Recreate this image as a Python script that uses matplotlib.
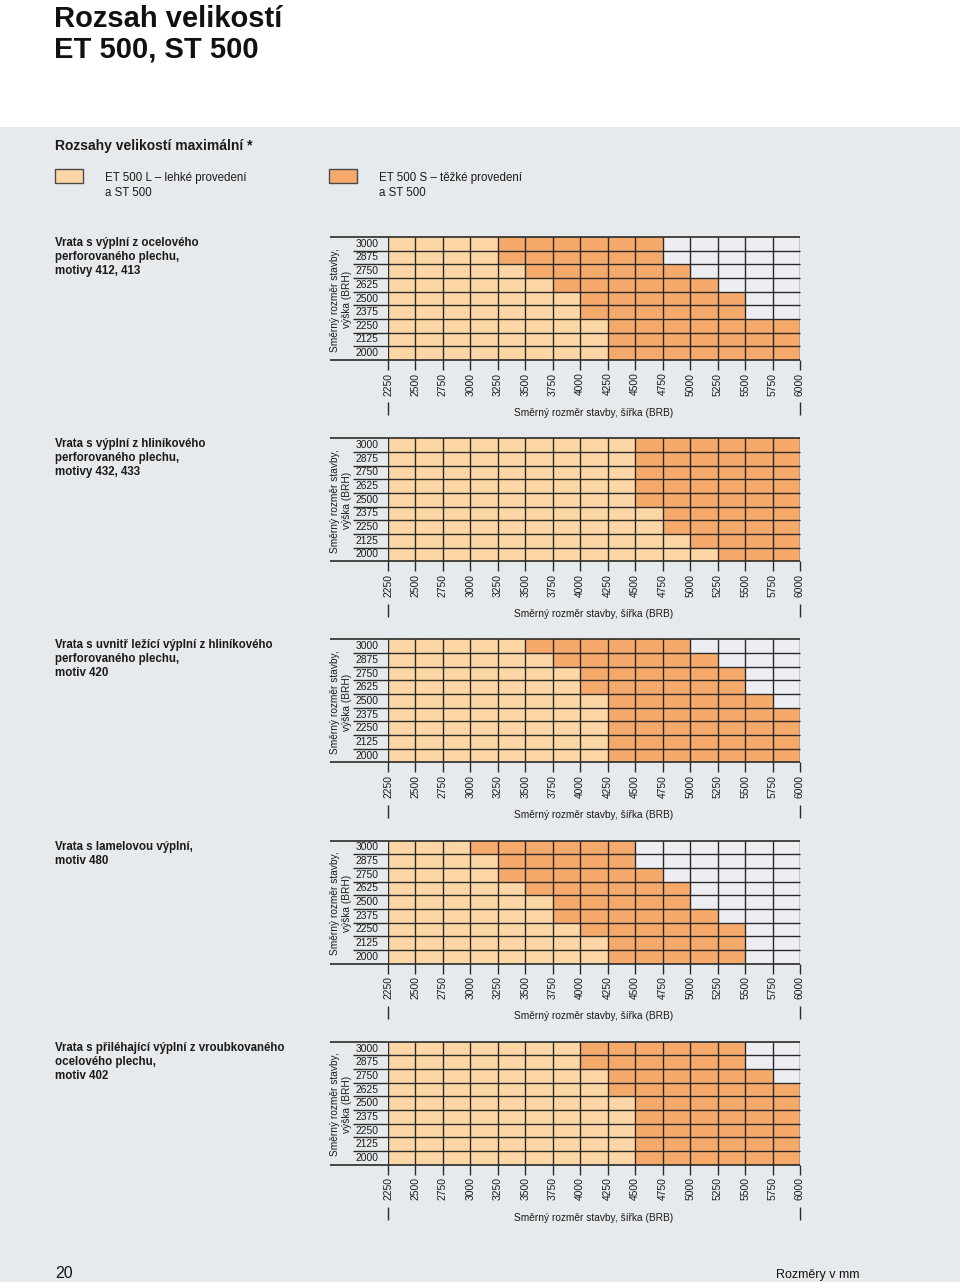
import matplotlib
matplotlib.use("Agg")
import matplotlib.pyplot as plt
from matplotlib.patches import Rectangle

# ---------------- data ----------------
widths = [2250, 2500, 2750, 3000, 3250, 3500, 3750, 4000, 4250,
          4500, 4750, 5000, 5250, 5500, 5750, 6000]          # BRB boundaries (mm)
heights = [3000, 2875, 2750, 2625, 2500, 2375, 2250, 2125, 2000]  # BRH rows, top->bottom

panel_titles = [
    "Vrata s výplní z ocelového\nperforovaného plechu,\nmotivy 412, 413",
    "Vrata s výplní z hliníkového\nperforovaného plechu,\nmotivy 432, 433",
    "Vrata s uvnitř ležící výplní z hliníkového\nperforovaného plechu,\nmotiv 420",
    "Vrata s lamelovou výplní,\nmotiv 480",
    "Vrata s přiléhající výplní z vroubkovaného\nocelového plechu,\nmotiv 402",
]

# maximum width per height row for ET 500 L (light) and ET 500 S (heavy)
L_max_1 = [3250, 3250, 3500, 3750, 4000, 4000, 4250, 4250, 4250]
S_max_1 = [4750, 4750, 5000, 5250, 5500, 5500, 6000, 6000, 6000]

L_max_2 = [4500, 4500, 4500, 4500, 4500, 4750, 4750, 5000, 5250]
S_max_2 = [6000, 6000, 6000, 6000, 6000, 6000, 6000, 6000, 6000]

L_max_3 = [3500, 3750, 4000, 4000, 4250, 4250, 4250, 4250, 4250]
S_max_3 = [5000, 5250, 5500, 5500, 5750, 6000, 6000, 6000, 6000]

L_max_4 = [3000, 3250, 3250, 3500, 3750, 3750, 4000, 4250, 4250]
S_max_4 = [4500, 4500, 4750, 5000, 5000, 5250, 5500, 5500, 5500]

L_max_5 = [4000, 4000, 4250, 4250, 4500, 4500, 4500, 4500, 4500]
S_max_5 = [5500, 5500, 5750, 6000, 6000, 6000, 6000, 6000, 6000]

L_max_all = [L_max_1, L_max_2, L_max_3, L_max_4, L_max_5]
S_max_all = [S_max_1, S_max_2, S_max_3, S_max_4, S_max_5]

legend_labels = ["ET 500 L – lehké provedení\na ST 500",
                 "ET 500 S – těžké provedení\na ST 500"]

# ---------------- style ----------------
W, H = 960, 1282
LIGHT = "#fdd6a5"
DARK = "#f5a96b"
BG = "#e7eaed"
EMPTY = "#eceef1"
LINE = "#2a2a2a"
FONT = ["Liberation Sans", "DejaVu Sans"]
plt.rcParams["font.family"] = FONT

fig = plt.figure(figsize=(W / 100, H / 100), dpi=100, facecolor="white")


def fx(x):
    return x / W


def fy(y):
    return 1 - y / H


# gray band (background, below the axes)
bg_ax = fig.add_axes([0, 0, 1, fy(127)], zorder=-10)
bg_ax.set_facecolor(BG)
bg_ax.set_xticks([])
bg_ax.set_yticks([])
for s in bg_ax.spines.values():
    s.set_visible(False)

# page title
fig.text(fx(54), fy(5), "Rozsah velikostí\nET 500, ST 500",
         fontweight="bold", fontsize=21, va="top", ha="left", linespacing=1.1,
         color="#111111")

fig.text(fx(55), fy(146), "Rozsahy velikostí maximální *", fontweight="bold",
         fontsize=10, va="center", ha="left", color="#1a1a1a")

# legend
for (px, txt, col) in [(55, legend_labels[0], LIGHT), (329, legend_labels[1], DARK)]:
    fig.patches.append(Rectangle((fx(px), fy(183)), fx(28), 14 / H,
                                 transform=fig.transFigure, facecolor=col,
                                 edgecolor="#4a4a4a", linewidth=1.0, zorder=2))
    fig.text(fx(px + 50), fy(172), txt, fontsize=8.3, va="top", ha="left",
             linespacing=1.38, color="#1a1a1a")

# ---------------- panels ----------------
grid_left, grid_right = 388, 800
grid_h = 123
nrows = len(heights)

for k in range(5):
    top = 237 + 201.2 * k
    bottom = top + grid_h
    ax = fig.add_axes([fx(grid_left), fy(bottom), fx(grid_right - grid_left), grid_h / H],
                      zorder=5)
    ax.set_facecolor(EMPTY)
    ax.set_xlim(widths[0], widths[-1])
    ax.set_ylim(nrows, 0)
    for s in ax.spines.values():
        s.set_visible(False)

    Lm = L_max_all[k]
    Sm = S_max_all[k]
    ys = [i + 0.5 for i in range(nrows)]
    ax.barh(ys, [l - widths[0] for l in Lm], left=widths[0], height=1.0,
            color=LIGHT, edgecolor="none", zorder=1)
    ax.barh(ys, [s - l for s, l in zip(Sm, Lm)], left=Lm, height=1.0,
            color=DARK, edgecolor="none", zorder=1)

    # grid lines
    ax.vlines(widths, 0, nrows, color=LINE, linewidth=1.0, zorder=3)
    ytr = ax.get_yaxis_transform()
    ax.hlines(range(1, nrows), -0.085, 1.0, transform=ytr, color=LINE,
              linewidth=1.0, zorder=3, clip_on=False)
    ax.hlines([0, nrows], -0.141, 1.0, transform=ytr, color=LINE,
              linewidth=1.2, zorder=3, clip_on=False)

    # row labels
    for i, h in enumerate(heights):
        ax.text(-0.078, i + 0.5, str(h), transform=ytr, ha="left", va="center",
                fontsize=7.4, color="#1a1a1a")

    # x ticks
    ax.set_yticks([])
    ax.set_xticks(widths)
    ax.set_xticklabels([str(w) for w in widths], rotation=90, fontsize=7.4,
                       color="#1a1a1a")
    ax.tick_params(axis="x", length=7.5, width=1.0, color=LINE, pad=1.5)

    # bracket lines at ends + x label
    xtr = ax.get_xaxis_transform()
    ax.vlines([widths[0], widths[-1]], -0.345, -0.45, transform=xtr,
              color=LINE, linewidth=1.0, clip_on=False)
    ax.text(0.5, -0.43, "Směrný rozměr stavby, šířka (BRB)", transform=ax.transAxes,
            ha="center", va="center", fontsize=7.3, color="#1a1a1a")

    # y label
    ax.text(-0.114, 0.49, "Směrný rozměr stavby,\nvýška (BRH)", transform=ax.transAxes,
            rotation=90, ha="center", va="center", multialignment="center",
            fontsize=7.3, linespacing=1.25, color="#1a1a1a")

    # panel title
    fig.text(fx(55), fy(top), panel_titles[k], fontweight="bold", fontsize=8.3,
             va="top", ha="left", linespacing=1.22, color="#1a1a1a")

# footer
fig.text(fx(55), fy(1274), "20", fontsize=11.5, ha="left",
         va="center", color="#111111")
fig.text(fx(860), fy(1275), "Rozměry v mm", fontsize=9,
         ha="right", va="center", color="#111111")

fig.savefig("out.png", dpi=100, facecolor="white")
